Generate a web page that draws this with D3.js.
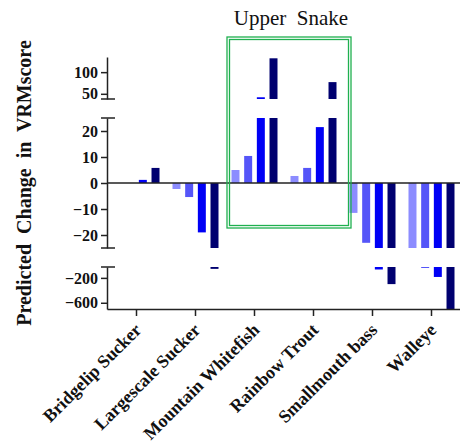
<!DOCTYPE html>
<html><head><meta charset="utf-8">
<script src="https://cdn.jsdelivr.net/npm/d3@7"></script>
<style>
body{margin:0;background:#fff;}
svg{display:block;}
text{font-family:"Liberation Serif","Times New Roman",serif;}
</style></head>
<body><svg id="chart" width="460" height="447"></svg>
<script>
const categories = ["Bridgelip Sucker","Largescale Sucker","Mountain Whitefish","Rainbow Trout","Smallmouth bass","Walleye"];
const series1 = [0, -2.3, 5, 2.7, -11.5, -25];
const series2 = [0, -5.4, 10.4, 5.8, -23, -40];
const series3 = [1.2, -19, 42, 21.5, -65, -185];
const series4 = [5.8, -55, 132, 77, -300, -700];
const seriesColors = ["#8c8cff","#5555f8","#0000f5","#000070"];
const topTicks = [50, 100];
const midTicks = [-20, -10, 0, 10, 20];
const botTicks = [-600, -200];

const svg = d3.select("#chart");
const axisX = 107, plotRight = 461;
const x0 = d3.scaleBand().domain(categories).range([axisX, plotRight]).padding(0);
const half = 23;
const x1 = d3.scaleBand().domain([0,1,2,3])
  .range([x0.bandwidth()/2 - half, x0.bandwidth()/2 + half]).paddingInner(0.37).paddingOuter(0);

const segments = [
  {scale: d3.scaleLinear().domain([38,135]).range([99,57]), ticks: topTicks},
  {scale: d3.scaleLinear().domain([-25,25]).range([248,118]), ticks: midTicks},
  {scale: d3.scaleLinear().domain([-25,-700]).range([267,309]), ticks: botTicks}
];

const allSeries = [series1, series2, series3, series4];

// bars
allSeries.forEach((vals, si) => {
  vals.forEach((v, ci) => {
    segments.forEach(seg => {
      const [a,b] = seg.scale.domain();
      const dmin = Math.min(a,b), dmax = Math.max(a,b);
      const lo = Math.max(Math.min(0,v), dmin), hi = Math.min(Math.max(0,v), dmax);
      if (hi - lo <= 0) return;
      const y1 = seg.scale(hi), y2 = seg.scale(lo);
      svg.append("rect")
        .attr("x", x0(categories[ci]) + x1(si))
        .attr("width", x1.bandwidth())
        .attr("y", Math.min(y1,y2))
        .attr("height", Math.max(1, Math.abs(y2-y1)))
        .attr("fill", seriesColors[si]);
    });
  });
});

// zero line
const yMid = segments[1].scale;
svg.append("line").attr("x1", axisX).attr("x2", 460).attr("y1", yMid(0)).attr("y2", yMid(0))
  .attr("stroke","#222").attr("stroke-width",1.5);

// y axes
segments.forEach(seg => {
  const g = svg.append("g").attr("transform", `translate(${axisX},0)`)
    .call(d3.axisLeft(seg.scale).tickValues(seg.ticks).tickSize(6).tickSizeOuter(0).tickPadding(3));
  g.attr("font-family", null).attr("font-size", null);
  g.select(".domain").attr("stroke","#222").attr("stroke-width",1.5);
  g.selectAll(".tick line").attr("stroke","#222").attr("stroke-width",1.5);
  g.selectAll(".tick text").style("font-family","'Liberation Serif', serif")
    .style("font-size","16px").style("font-weight","bold")
    .attr("fill","#111");
});
// break marks
[segments[0].scale.range()[0], segments[1].scale.range()[1], segments[1].scale.range()[0], segments[2].scale.range()[0]]
  .forEach(y => {
    svg.append("line").attr("x1", 101).attr("x2", 115).attr("y1", y).attr("y2", y)
      .attr("stroke","#222").attr("stroke-width",1.5);
  });

// x axis
const yBase = segments[2].scale.range()[1];
const gx = svg.append("g").attr("transform", `translate(0,${yBase})`)
  .call(d3.axisBottom(x0).tickSize(7).tickSizeOuter(0));
gx.attr("font-family", null).attr("font-size", null);
gx.select(".domain").attr("stroke","#222").attr("stroke-width",1.5);
gx.selectAll(".tick line").attr("stroke","#222").attr("stroke-width",1.5);
gx.selectAll(".tick text")
  .style("font-family","'Liberation Serif', serif")
  .style("font-size","18px").style("font-weight","bold")
  .attr("fill","#111")
  .attr("text-anchor","end").attr("dy","0")
  .attr("transform","translate(6,22) rotate(-45)")
  .attr("y",0).attr("x",0);

// annotation box
const box = {x:227, y:37, w:124, h:191};
svg.append("rect").attr("x",box.x).attr("y",box.y).attr("width",box.w).attr("height",box.h)
  .attr("fill","none").attr("stroke","#1fb04f").attr("stroke-width",1.3);
svg.append("rect").attr("x",box.x+2.5).attr("y",box.y+2.5).attr("width",box.w-5).attr("height",box.h-5)
  .attr("fill","none").attr("stroke","#1fb04f").attr("stroke-width",1.3);

// title
svg.append("text").attr("x",291).attr("y",25).attr("text-anchor","middle")
  .style("font-size","21px").attr("fill","#111").attr("xml:space","preserve")
  .text("Upper  Snake");

// y label
svg.append("text").attr("transform","translate(31,183) rotate(-90)").attr("text-anchor","middle")
  .style("font-size","20px").style("font-weight","bold").attr("fill","#111").attr("xml:space","preserve")
  .text("Predicted  Change  in  VRMscore");
</script></body></html>
